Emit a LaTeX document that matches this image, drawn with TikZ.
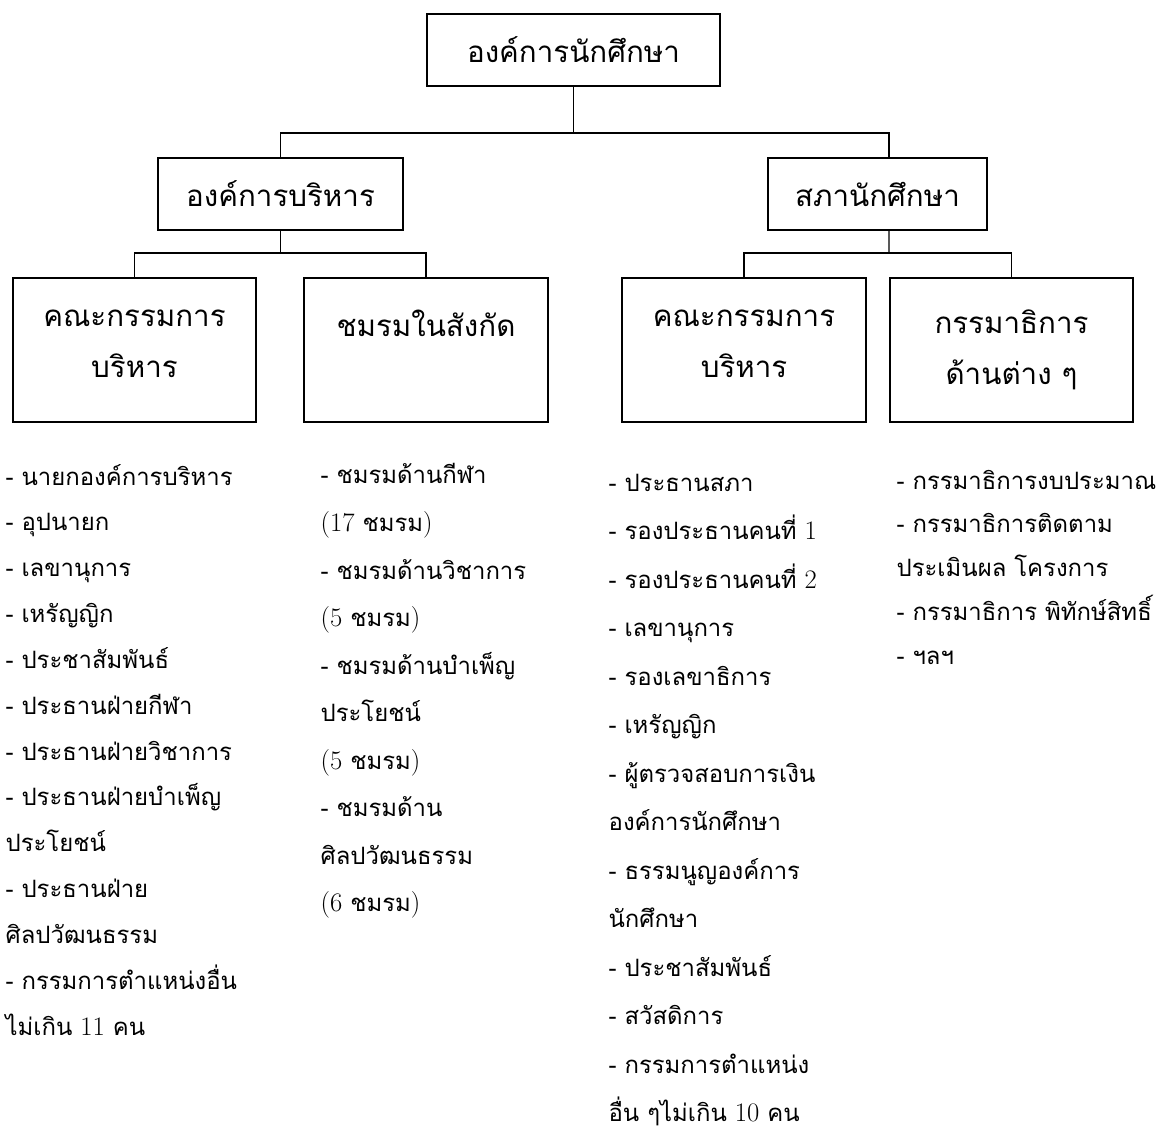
\documentclass[tikz,border=0pt]{standalone}
\usepackage{fontspec}
\newfontfamily\thaifont[Script=Thai]{Loma}
\newcommand\digits[1]{{\normalfont\fontsize{19}{19}\selectfont #1}}

\begin{document}
\begin{tikzpicture}[x=0.025cm,y=-0.025cm,line width=0.9pt]
          \tikzstyle{unit}=[draw,line width=1.4pt,inner sep=0pt,
                            font=\thaifont\fontsize{21}{36}\selectfont]
          \tikzstyle{tall}=[unit,
                            execute at begin node={\begin{minipage}[t][3.6cm][t]{6.075cm}\centering\vspace*{0.8cm}},
                            execute at end node={\end{minipage}}]
          \tikzstyle{list}=[anchor=base west,inner sep=0pt,text width=7.5cm,align=left]

          \useasboundingbox (0,0) rectangle (1158,1135);

          \node[unit,minimum width=7.325cm,minimum height=1.8cm] (org)     at (573.5,50)  {องค์การนักศึกษา};
          \node[unit,minimum width=6.1cm,minimum height=1.8cm]   (exec)    at (280.5,194) {องค์การบริหาร};
          \node[unit,minimum width=5.475cm,minimum height=1.8cm] (council) at (877.5,194) {สภานักศึกษา};

          \node[tall] (board)  at (134.5,350) {คณะกรรมการ\\บริหาร};
          \node[tall] (clubs)  at (426,350)   {ชมรมในสังกัด};
          \node[tall] (sboard) at (744,350)   {คณะกรรมการ\\บริหาร};
          \node[tall] (cttee)  at (1011.5,350) {กรรมาธิการ\\ด้านต่าง ๆ};

          \coordinate (jtop)   at (573.5,133);
          \coordinate (jexec)  at (280.5,253);
          \coordinate (jcncl)  at (889,253);

          \draw (org) -- (jtop);
          \draw (jtop) -| (exec);
          \draw (jtop) -| ([xshift=0.29cm]council.north);
          \draw (exec) -- (jexec);
          \draw (jexec) -| (board);
          \draw (jexec) -| (clubs);
          \draw ([xshift=0.29cm]council.south) -- (jcncl);
          \draw (jcncl) -| (sboard);
          \draw (jcncl) -| (cttee);

          \node[list,font=\thaifont\fontsize{17}{32.6}\selectfont] (list1) at (5,485) {%
            - นายกองค์การบริหาร\\
            - อุปนายก\\
            - เลขานุการ\\
            - เหรัญญิก\\
            - ประชาสัมพันธ์\\
            - ประธานฝ่ายกีฬา\\
            - ประธานฝ่ายวิชาการ\\
            - ประธานฝ่ายบำเพ็ญ\\
            ประโยชน์\\
            - ประธานฝ่าย\\
            ศิลปวัฒนธรรม\\
            - กรรมการตำแหน่งอื่น\\
            ไม่เกิน \digits{11} คน};

          \node[list,font=\thaifont\fontsize{17}{33.8}\selectfont] (list2) at (320,484) {%
            - ชมรมด้านกีฬา\\
            \digits{(17} ชมรม\digits{)}\\
            - ชมรมด้านวิชาการ\\
            \digits{(5} ชมรม\digits{)}\\
            - ชมรมด้านบำเพ็ญ\\
            ประโยชน์\\
            \digits{(5} ชมรม\digits{)}\\
            - ชมรมด้าน\\
            ศิลปวัฒนธรรม\\
            \digits{(6} ชมรม\digits{)}};

          \node[list,font=\thaifont\fontsize{17}{34.5}\selectfont] (list3) at (608,491) {%
            - ประธานสภา\\
            - รองประธานคนที่ \digits{1}\\
            - รองประธานคนที่ \digits{2}\\
            - เลขานุการ\\
            - รองเลขาธิการ\\
            - เหรัญญิก\\
            - ผู้ตรวจสอบการเงิน\\
            องค์การนักศึกษา\\
            - ธรรมนูญองค์การ\\
            นักศึกษา\\
            - ประชาสัมพันธ์\\
            - สวัสดิการ\\
            - กรรมการตำแหน่ง\\
            อื่น ๆไม่เกิน \digits{10} คน};

          \node[list,font=\thaifont\fontsize{17}{31.2}\selectfont] (list4) at (896,489) {%
            - กรรมาธิการงบประมาณ\\
            - กรรมาธิการติดตาม\\
            ประเมินผล โครงการ\\
            - กรรมาธิการ พิทักษ์สิทธิ์\\
            - ฯลฯ};
        \end{tikzpicture}
\end{document}
